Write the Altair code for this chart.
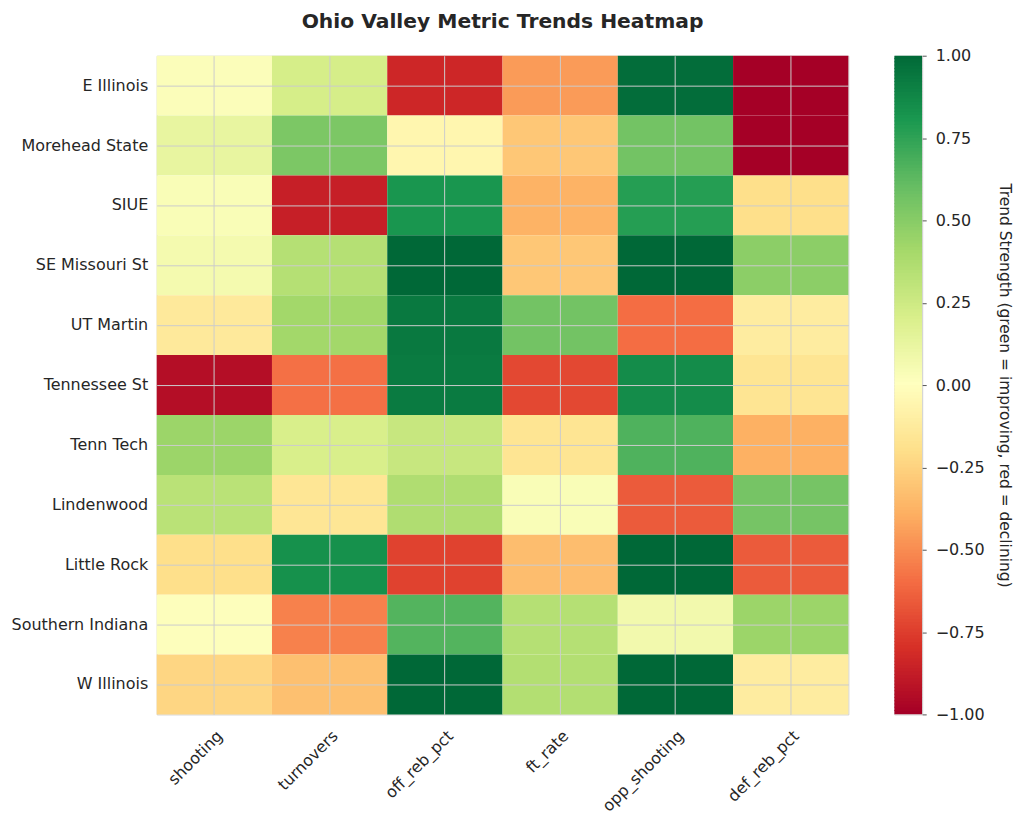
import altair as alt
import pandas as pd
import numpy as np

teams = ["E Illinois", "Morehead State", "SIUE", "SE Missouri St", "UT Martin",
         "Tennessee St", "Tenn Tech", "Lindenwood", "Little Rock",
         "Southern Indiana", "W Illinois"]
metrics = ["shooting", "turnovers", "off_reb_pct", "ft_rate", "opp_shooting", "def_reb_pct"]

shooting     = [0.02, 0.12, 0.03, 0.06, -0.14, -0.94, 0.43, 0.32, -0.20, 0.01, -0.24]
turnovers    = [0.21, 0.53, -0.87, 0.34, 0.41, -0.59, 0.20, -0.16, 0.83, -0.54, -0.33]
off_reb_pct  = [-0.84, -0.06, 0.81, 1.00, 0.93, 0.92, 0.27, 0.36, -0.74, 0.65, 1.00]
ft_rate      = [-0.46, -0.30, -0.38, -0.30, 0.56, -0.72, -0.17, 0.03, -0.34, 0.34, 0.35]
opp_shooting = [0.98, 0.56, 0.77, 1.00, -0.60, 0.85, 0.66, -0.66, 1.00, 0.07, 1.00]
def_reb_pct  = [-1.00, -1.00, -0.20, 0.48, -0.12, -0.17, -0.39, 0.55, -0.66, 0.43, -0.12]

cols = [shooting, turnovers, off_reb_pct, ft_rate, opp_shooting, def_reb_pct]
rows = []
for m, vals in zip(metrics, cols):
    for t, v in zip(teams, vals):
        rows.append({"team": t, "metric": m, "value": v})
df = pd.DataFrame(rows)

cbar_ticks = [-1.0, -0.75, -0.5, -0.25, 0.0, 0.25, 0.5, 0.75, 1.0]
cb = np.arange(-1.0, 1.0, 0.01)
df_cb = pd.DataFrame({"v": cb, "v2": cb + 0.013})

# ColorBrewer RdYlGn (11 classes), as in matplotlib's RdYlGn
rdylgn = ["#a50026", "#d73027", "#f46d43", "#fdae61", "#fee08b", "#ffffbf",
          "#d9ef8b", "#a6d96a", "#66bd63", "#1a9850", "#006837"]
stops = [-1.0, -0.8, -0.6, -0.4, -0.2, 0.0, 0.2, 0.4, 0.6, 0.8, 1.0]

FONT = "DejaVu Sans"
TXT = "#262626"
GRID = "#cccccc"

def cscale():
    return alt.Scale(domain=stops, range=rdylgn, interpolate="rgb")

heat = alt.Chart(df).mark_rect().encode(
    x=alt.X("metric:N", sort=metrics,
            scale=alt.Scale(paddingInner=0, paddingOuter=0),
            axis=alt.Axis(title=None, labelAngle=-45, bandPosition=0.5, grid=True,
                          gridColor=GRID, gridWidth=1, zindex=1, ticks=False, domain=False,
                          labelFontSize=16, labelColor=TXT, labelPadding=13)),
    y=alt.Y("team:N", sort=teams,
            scale=alt.Scale(paddingInner=0, paddingOuter=0),
            axis=alt.Axis(title=None, bandPosition=0.5, grid=True,
                          gridColor=GRID, gridWidth=1, zindex=1, ticks=False, domain=False,
                          labelFontSize=16, labelColor=TXT, labelPadding=9)),
    color=alt.Color("value:Q", scale=cscale(), legend=None),
).properties(
    width=693, height=660,
    title=alt.TitleParams("Ohio Valley Metric Trends Heatmap", fontSize=20.3, font=FONT,
                          fontWeight="bold", color=TXT, offset=23, anchor="middle"),
)

cbar = alt.Chart(df_cb).mark_rect(clip=True).encode(
    y=alt.Y("v:Q", scale=alt.Scale(domain=[-1, 1], nice=False, zero=False),
            axis=alt.Axis(orient="right", values=cbar_ticks,
                          labelExpr="replace(format(datum.value, '.2f'), '-', '\u2212')",
                          tickSize=4, tickColor="#555555", domain=False, grid=False,
                          labelFontSize=16, labelColor=TXT, labelPadding=9,
                          title="Trend Strength (green = improving, red = declining)",
                          titleFontSize=15.5, titleFontWeight="normal", titleColor=TXT,
                          titlePadding=12)),
    y2="v2:Q",
    color=alt.Color("v:Q", scale=cscale(), legend=None),
).properties(width=28, height=660)

chart = alt.hconcat(heat, cbar, spacing=44).resolve_scale(
    y="independent", color="independent", x="independent"
).properties(
    padding={"left": 2, "top": 3, "right": 4, "bottom": 5}
).configure(font=FONT).configure_view(stroke=GRID, strokeWidth=1)

chart.save("out.html", embed_options={"renderer": "svg", "actions": False})
